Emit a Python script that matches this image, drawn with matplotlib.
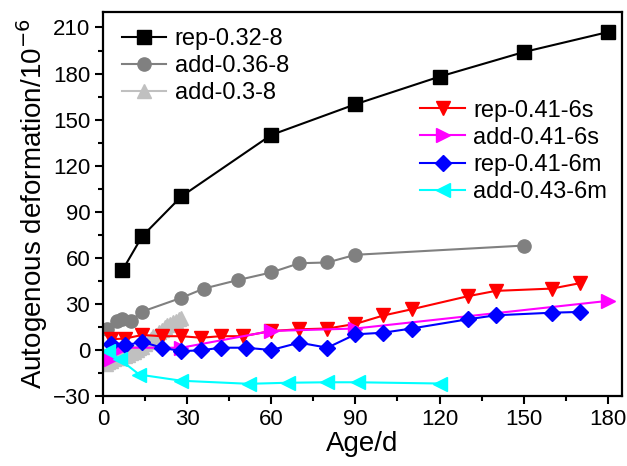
import matplotlib
matplotlib.use("Agg")
import matplotlib.pyplot as plt
from matplotlib.ticker import MultipleLocator

plt.rcParams['font.family'] = ['Liberation Sans', 'DejaVu Sans']

rep_032_x = [7, 14, 28, 60, 90, 120, 150, 180]
rep_032_y = [52, 74, 100, 140, 160, 178, 194, 207]

add_036_x = [1.5, 5, 7, 10, 14, 28, 36, 48, 60, 70, 80, 90, 150]
add_036_y = [13.5, 19, 20, 19, 25, 34, 40, 45.5, 50.5, 56.5, 57, 62, 68]

add_03_x = list(range(1, 29))
add_03_y = [-9, -8, -7, -6, -5, -5, -4, -4, -3, -2, -1, 0, 1, 2, 4, 5, 7, 9,
            10, 12, 13, 15, 16, 17, 18, 19, 20, 21]

rep_041s_x = [3, 8, 14, 21, 28, 35, 42, 50, 60, 70, 80, 90, 100, 110, 130, 140, 160, 170]
rep_041s_y = [7, 7.5, 9.8, 9, 9, 8, 9, 9, 12.4, 13.5, 14, 17, 22.5, 26.5, 35, 38.5, 40, 43.5]

add_041s_x = [3, 7, 28, 60, 90, 180]
add_041s_y = [-6, 1.5, 1.5, 12.4, 14, 32]

rep_041m_x = [3, 8, 14, 21, 28, 35, 42, 51, 60, 70, 80, 90, 100, 110, 130, 140, 160, 170]
rep_041m_y = [3.7, 3, 5.4, 1.5, -0.7, -0.2, 1.5, 1.5, 0, 4.8, 1.5, 10.2, 11.3, 14, 20, 22.6, 24.3, 24.8]

add_043m_x = [2, 6, 13, 28, 52, 66, 80, 91, 120]
add_043m_y = [-0.7, -6, -16, -20, -22, -21.3, -21, -21, -21.8]

fig = plt.figure(figsize=(6.27, 4.66), dpi=100)
ax = fig.add_axes([0.164, 0.150, 0.828, 0.824])

lw = 1.5
ms = 9.5
l1, = ax.plot(rep_032_x, rep_032_y, color='black', marker='s', lw=lw, ms=ms, label='rep-0.32-8')
l2, = ax.plot(add_036_x, add_036_y, color='#808080', marker='o', lw=lw, ms=ms, label='add-0.36-8')
l3, = ax.plot(add_03_x, add_03_y, color='#c0c0c0', marker='^', lw=lw, ms=ms + 1, label='add-0.3-8')
l4, = ax.plot(rep_041s_x, rep_041s_y, color='red', marker='v', lw=lw, ms=ms + 1, label='rep-0.41-6s')
l5, = ax.plot(add_041s_x, add_041s_y, color='magenta', marker='>', lw=lw, ms=ms + 1, label='add-0.41-6s')
l6, = ax.plot(rep_041m_x, rep_041m_y, color='blue', marker='D', lw=lw, ms=ms - 1, label='rep-0.41-6m')
l7, = ax.plot(add_043m_x, add_043m_y, color='cyan', marker='<', lw=lw, ms=ms + 1, label='add-0.43-6m')

ax.set_xlim(0, 185)
ax.set_ylim(-30, 220)
ax.xaxis.set_major_locator(MultipleLocator(30))
ax.xaxis.set_minor_locator(MultipleLocator(15))
ax.yaxis.set_major_locator(MultipleLocator(30))
ax.yaxis.set_minor_locator(MultipleLocator(15))
ax.tick_params(which='major', direction='out', length=6, width=1.5, labelsize=16, pad=3)
ax.tick_params(which='minor', direction='out', length=3.5, width=1.5)
for s in ax.spines.values():
    s.set_linewidth(1.6)

ax.set_xlabel('Age/d', fontsize=20, labelpad=1)
ax.set_ylabel('Autogenous deformation/10$^{-6}$', fontsize=20, labelpad=2)

leg_kw = dict(frameon=False, fontsize=17, handlelength=1.9, handletextpad=0.35,
              labelspacing=0.22, borderpad=0.4, borderaxespad=0)
leg1 = ax.legend(handles=[l1, l2, l3], loc='upper left', bbox_to_anchor=(0.018, 0.983), **leg_kw)
ax.add_artist(leg1)
ax.legend(handles=[l4, l5, l6, l7], loc='upper left', bbox_to_anchor=(0.593, 0.797), **leg_kw)

fig.savefig('out.png', dpi=100)
